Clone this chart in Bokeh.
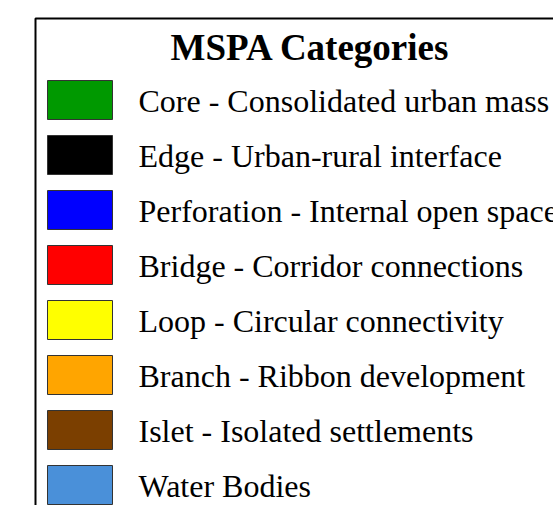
from bokeh.plotting import figure
from bokeh.models import Range1d, ColumnDataSource
from bokeh.core.properties import value
from bokeh.embed import file_html
from bokeh.resources import INLINE

title = "MSPA Categories"
categories = [
    "Core - Consolidated urban mass",
    "Edge - Urban-rural interface",
    "Perforation - Internal open space",
    "Bridge - Corridor connections",
    "Loop - Circular connectivity",
    "Branch - Ribbon development",
    "Islet - Isolated settlements",
    "Water Bodies",
]
colors = ["#009900", "#000000", "#0000FF", "#FF0000", "#FFFF00", "#FFA500", "#7B3F00", "#4A90D9"]

W, H = 553, 505
p = figure(width=W, height=H, output_backend="svg", toolbar_location=None,
           x_range=Range1d(0, W), y_range=Range1d(H, 0), min_border=0)
p.axis.visible = False
p.grid.visible = False
p.outline_line_color = None
p.background_fill_color = "white"

# legend frame
p.quad(left=[35], right=[W + 40], top=[18], bottom=[H + 40],
       fill_color="white", line_color="black", line_width=2)

row0, step = 80, 55
tops = [row0 + i * step for i in range(len(categories))]
src = ColumnDataSource(dict(
    top=tops,
    bottom=[t + 39 for t in tops],
    left=[47] * len(tops),
    right=[112] * len(tops),
    color=colors,
    label=categories,
    ty=[t + 20 for t in tops],
    tx=[138] * len(tops),
))
p.quad(left="left", right="right", top="top", bottom="bottom", source=src,
       fill_color="color", line_color="#333333", line_width=1)
p.text(x="tx", y="ty", text="label", source=src,
       text_font=value("Liberation Serif"), text_font_size="32px",
       text_color="black", text_baseline="alphabetic", text_align="left")

p.text(x=[310], y=[47], text=[title], text_font=value("Liberation Serif"),
       text_font_size="37px", text_font_style="bold", text_color="black",
       text_baseline="alphabetic", text_align="center")

open("out.html", "w").write(file_html(p, INLINE))
